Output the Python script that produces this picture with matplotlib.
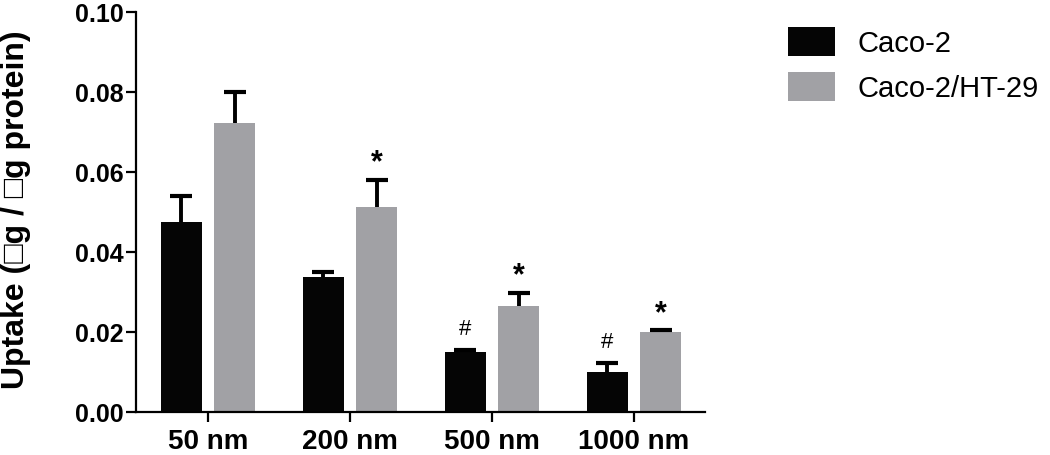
import numpy as np
import matplotlib
matplotlib.use("Agg")
import matplotlib.pyplot as plt

plt.rcParams["font.family"] = ["Liberation Sans", "DejaVu Sans"]

# values
sizes = ["50 nm", "200 nm", "500 nm", "1000 nm"]
caco2 = [0.0475, 0.0338, 0.0151, 0.0101]
caco2_err = [0.0065, 0.0012, 0.0004, 0.0021]
cocult = [0.0723, 0.0513, 0.0266, 0.0201]
cocult_err = [0.0076, 0.0067, 0.0032, 0.0003]
caco2_marks = ["", "", "#", "#"]
cocult_marks = ["", "*", "*", "*"]
yticks = [0.00, 0.02, 0.04, 0.06, 0.08, 0.10]

BLACK = "#050505"
GREY = "#a1a1a5"

fig = plt.figure(figsize=(10.5, 4.55), dpi=100)
ax = fig.add_axes([0.1295, 0.0945, 0.5419, 0.8791])

x = np.arange(len(sizes))
w = 0.289
off = 0.187

ax.bar(x - off, caco2, w, color=BLACK, label="Caco-2", zorder=2)
ax.bar(x + off, cocult, w, color=GREY, label="Caco-2/HT-29", zorder=2)

# upper error bars only, lower caps hidden
for xs, ys, es in ((x - off, caco2, caco2_err), (x + off, cocult, cocult_err)):
    _, caps, _ = ax.errorbar(xs, ys, yerr=[np.zeros(len(xs)), es], fmt="none",
                             ecolor="black", elinewidth=2.8, capsize=8,
                             capthick=3, zorder=3)
    caps[0].set_visible(False)

# significance marks above the error caps
for i in range(len(x)):
    if caco2_marks[i]:
        ax.annotate(caco2_marks[i], (x[i] - off, caco2[i] + caco2_err[i]),
                    xytext=(0, 11), textcoords="offset points",
                    ha="center", va="baseline", fontsize=16)
    if cocult_marks[i]:
        ax.annotate(cocult_marks[i], (x[i] + off, cocult[i] + cocult_err[i]),
                    xytext=(0, 6), textcoords="offset points",
                    ha="center", va="baseline", fontsize=22, fontweight="bold")

ax.set_xlim(-0.507, 3.5)
ax.set_ylim(0, 0.10)
ax.set_yticks(yticks)
ax.set_yticklabels([f"{v:.2f}" for v in yticks], fontsize=18, fontweight="bold")
ax.set_xticks(x)
ax.set_xticklabels(sizes, fontsize=20, fontweight="bold")
ax.set_ylabel("Uptake (\u25a1g / \u25a1g protein)", fontsize=23, fontweight="bold")
ax.yaxis.set_label_coords(-0.185, 0.505)

ax.spines["top"].set_visible(False)
ax.spines["right"].set_visible(False)
for s in ("left", "bottom"):
    ax.spines[s].set_linewidth(1.6)
ax.tick_params(axis="both", length=7, width=1.6)
ax.tick_params(axis="y", pad=2)
ax.tick_params(axis="x", pad=5)

fig.legend(loc="upper left", bbox_to_anchor=(0.7505, 0.94), frameon=False,
           fontsize=21, handlelength=1.62, handleheight=1.16,
           labelspacing=0.5, handletextpad=0.75, borderpad=0, borderaxespad=0)

fig.savefig("out.png", dpi=100)
